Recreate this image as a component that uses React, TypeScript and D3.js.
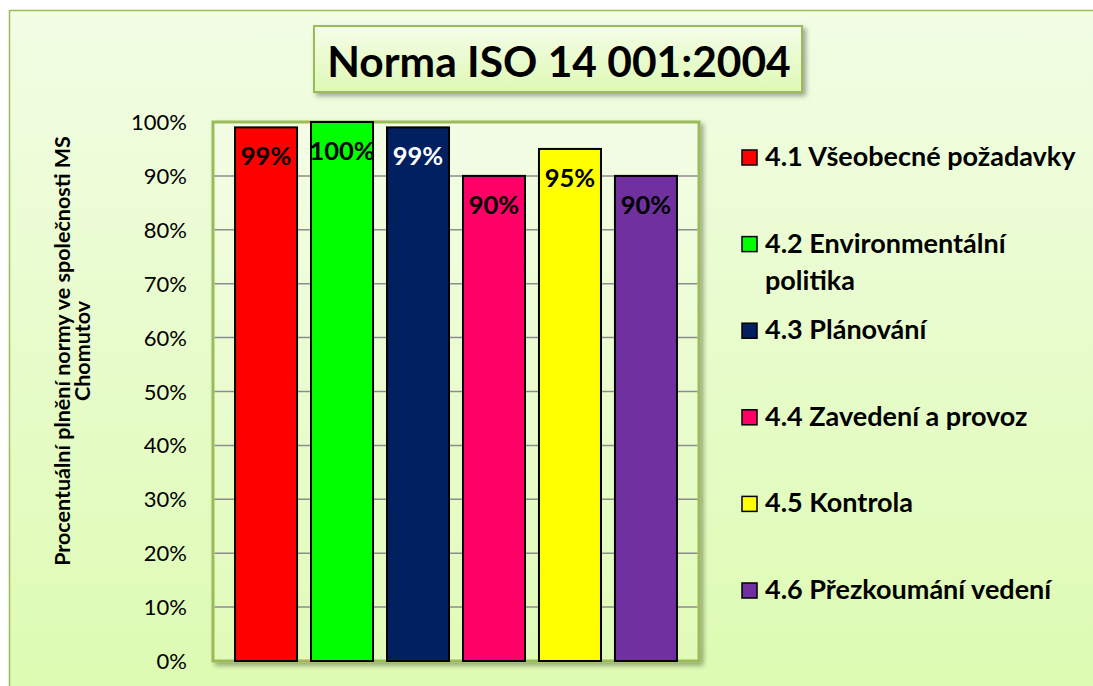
import React from 'react';
import * as d3 from 'd3';

const categories = [
  '4.1 Všeobecné požadavky',
  '4.2 Environmentální politika',
  '4.3 Plánování',
  '4.4 Zavedení a provoz',
  '4.5 Kontrola',
  '4.6 Přezkoumání vedení',
];
const legendLines = [
  ['4.1 Všeobecné požadavky'],
  ['4.2 Environmentální', 'politika'],
  ['4.3 Plánování'],
  ['4.4 Zavedení a provoz'],
  ['4.5 Kontrola'],
  ['4.6 Přezkoumání vedení'],
];
const values = [99, 100, 99, 90, 95, 90];
const barColors = ['#ff0000', '#00ff00', '#002060', '#ff0066', '#ffff00', '#7030a0'];
const labelColors = ['#000', '#000', '#fff', '#000', '#000', '#000'];
const yTicks = [0, 10, 20, 30, 40, 50, 60, 70, 80, 90, 100];

const FONT = 'Lato, "Open Sans", sans-serif';

const App = () => {
  const width = 1093;
  const height = 686;
  const plot = { left: 213, right: 699, top: 122, bottom: 661 };

  const x = d3
    .scaleBand<string>()
    .domain(categories)
    .range([plot.left, plot.right])
    .paddingInner(0.184)
    .paddingOuter(0.29);
  const y = d3.scaleLinear().domain([0, 100]).range([plot.bottom, plot.top]);

  return (
    <svg
      width={width}
      height={height}
      style={{ position: 'absolute', left: 0, top: 0, display: 'block' }}
      fontFamily={FONT}
    >
      <defs>
        <linearGradient id="bg" x1="0" y1="0" x2="0" y2="1">
          <stop offset="0" stopColor="#f2fde4" />
          <stop offset="1" stopColor="#dcfbb0" />
        </linearGradient>
        <linearGradient id="plotbg" x1="0" y1="0" x2="0" y2="1">
          <stop offset="0" stopColor="#f3fde6" />
          <stop offset="1" stopColor="#e0fbb8" />
        </linearGradient>
        <linearGradient id="titlebg" x1="0" y1="0" x2="0" y2="1">
          <stop offset="0" stopColor="#f4fde8" />
          <stop offset="1" stopColor="#def9b4" />
        </linearGradient>
        <filter id="shadow" x="-10%" y="-10%" width="130%" height="130%">
          <feDropShadow dx="3" dy="3" stdDeviation="2.5" floodColor="#000" floodOpacity="0.35" />
        </filter>
      </defs>

      <rect x={0} y={0} width={width} height={height} fill="#fff" />
      <rect
        x={9.5}
        y={10.5}
        width={width + 20}
        height={height + 20}
        fill="url(#bg)"
        stroke="#9bbb59"
        strokeWidth={1.5}
      />

      {/* title */}
      <rect
        x={314}
        y={26}
        width={488}
        height={66}
        fill="url(#titlebg)"
        stroke="#9bbb59"
        strokeWidth={2}
        filter="url(#shadow)"
      />
      <text x={559} y={77} textAnchor="middle" fontSize={42.5} fontWeight="bold" fill="#000">
        Norma ISO 14 001:2004
      </text>

      {/* plot area */}
      <rect
        x={plot.left}
        y={plot.top}
        width={plot.right - plot.left}
        height={plot.bottom - plot.top}
        fill="url(#plotbg)"
        stroke="#9bbb59"
        strokeWidth={3}
        filter="url(#shadow)"
      />
      {yTicks.slice(1, -1).map((t) => (
        <line
          key={t}
          x1={plot.left + 1.5}
          x2={plot.right - 1.5}
          y1={y(t)}
          y2={y(t)}
          stroke="#8c8c8c"
          strokeWidth={1.5}
        />
      ))}
      {yTicks.map((t) => (
        <text key={t} x={187} y={y(t) + 8} textAnchor="end" fontSize={22} fill="#000">
          {t}%
        </text>
      ))}

      {/* bars */}
      {categories.map((c, i) => (
        <rect
          key={c}
          x={x(c)}
          y={y(values[i])}
          width={x.bandwidth()}
          height={y(0) - y(values[i])}
          fill={barColors[i]}
          stroke="#000"
          strokeWidth={2}
        />
      ))}
      {categories.map((c, i) => (
        <text
          key={c}
          x={(x(c) as number) + x.bandwidth() / 2}
          y={y(values[i]) + 38}
          textAnchor="middle"
          fontSize={25.5}
          fontWeight="bold"
          fill={labelColors[i]}
        >
          {values[i]}%
        </text>
      ))}

      {/* y axis title */}
      <g transform={`translate(0, 351) rotate(-90)`}>
        <text x={0} y={70} textAnchor="middle" fontSize={21.5} fontWeight="bold">
          Procentuální plnění normy ve společnosti MS
        </text>
        <text x={0} y={90} textAnchor="middle" fontSize={21.5} fontWeight="bold">
          Chomutov
        </text>
      </g>

      {/* legend */}
      {legendLines.map((lines, i) => {
        const base = 166 + i * 86.6;
        return (
          <g key={i}>
            <rect
              x={742}
              y={base - 16}
              width={15}
              height={15}
              fill={barColors[i]}
              stroke="#000"
              strokeWidth={1.5}
            />
            {lines.map((l, j) => (
              <text key={j} x={765} y={base + j * 37} fontSize={27} fontWeight="bold" fill="#000">
                {l}
              </text>
            ))}
          </g>
        );
      })}
    </svg>
  );
};

export default App;
